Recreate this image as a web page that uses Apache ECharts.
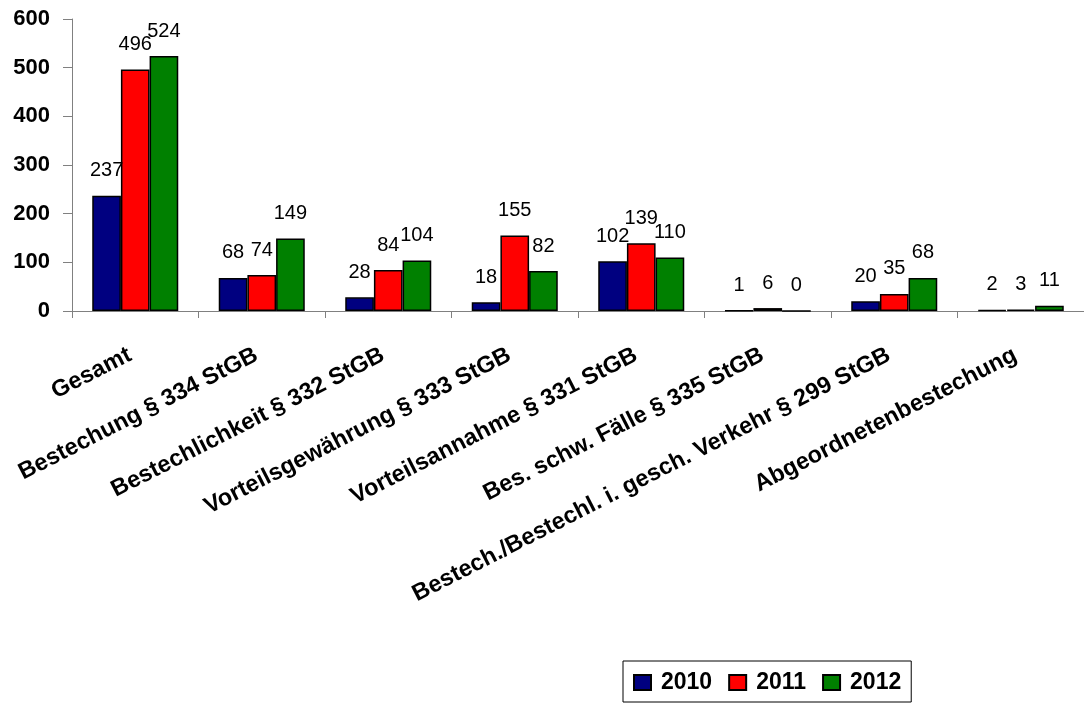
<!DOCTYPE html>
<html>
<head>
<meta charset="utf-8">
<script src="https://cdn.jsdelivr.net/npm/echarts@6/dist/echarts.min.js"></script>
<style>
  html, body { margin: 0; padding: 0; background: #ffffff; }
  #chart { width: 1084px; height: 704px; }
</style>
</head>
<body>
<div id="chart"></div>
<script>
// Korruptionsdelikte nach Tatbestand, 2010–2012
const categories = [
  'Gesamt',
  'Bestechung § 334 StGB',
  'Bestechlichkeit § 332 StGB',
  'Vorteilsgewährung § 333 StGB',
  'Vorteilsannahme § 331 StGB',
  'Bes. schw. Fälle § 335 StGB',
  'Bestech./Bestechl. i. gesch. Verkehr § 299 StGB',
  'Abgeordnetenbestechung'
];
const years = ['2010', '2011', '2012'];
const values2010 = [237, 68, 28, 18, 102, 1, 20, 2];
const values2011 = [496, 74, 84, 155, 139, 6, 35, 3];
const values2012 = [524, 149, 104, 82, 110, 0, 68, 11];
const yTicks = [0, 100, 200, 300, 400, 500, 600];

const colors = ['#000080', '#ff0000', '#008000'];
const seriesValues = [values2010, values2011, values2012];

const chart = echarts.init(document.getElementById('chart'), null, { renderer: 'canvas' });

const series = years.map((y, i) => ({
  name: y,
  type: 'bar',
  data: seriesValues[i],
  barGap: '0%',
  barCategoryGap: '32%',
  itemStyle: { color: colors[i], borderColor: '#000000', borderWidth: 1.5 },
  label: {
    show: true,
    position: 'top',
    distance: 15,
    color: '#000000',
    fontFamily: 'Liberation Sans, Arial, sans-serif',
    fontSize: 20
  },
  emphasis: { disabled: true }
}));

chart.setOption({
  animation: false,
  backgroundColor: '#ffffff',
  grid: { left: 72, top: 19, width: 1024, height: 292, containLabel: false },
  legend: {
    data: years,
    left: 623,
    top: 661,
    orient: 'horizontal',
    icon: 'rect',
    itemWidth: 17,
    itemHeight: 15,
    itemGap: 16,
    padding: [10, 10, 8, 10],
    borderColor: '#000000',
    borderWidth: 1,
    textStyle: {
      color: '#000000',
      fontFamily: 'Liberation Sans, Arial, sans-serif',
      fontWeight: 'bold',
      fontSize: 23,
      padding: [0, 0, 0, 5]
    }
  },
  xAxis: {
    type: 'category',
    data: categories,
    axisLine: { lineStyle: { color: '#808080', width: 1 } },
    axisTick: { show: true, length: 7, alignWithLabel: false, lineStyle: { color: '#808080' } },
    axisLabel: {
      interval: 0,
      rotate: 27,
      margin: 40,
      padding: [0, 6, 0, 0],
      color: '#000000',
      fontFamily: 'Liberation Sans, Arial, sans-serif',
      fontWeight: 'bold',
      fontSize: 23.5
    },
    splitLine: { show: false }
  },
  yAxis: {
    type: 'value',
    min: yTicks[0],
    max: yTicks[yTicks.length - 1],
    interval: 100,
    axisLine: { show: true, lineStyle: { color: '#808080', width: 1 } },
    axisTick: { show: true, inside: false, length: 9, lineStyle: { color: '#808080' } },
    axisLabel: {
      margin: 22,
      color: '#000000',
      fontFamily: 'Liberation Sans, Arial, sans-serif',
      fontWeight: 'bold',
      fontSize: 22
    },
    splitLine: { show: false }
  },
  series: series
});
</script>
</body>
</html>
